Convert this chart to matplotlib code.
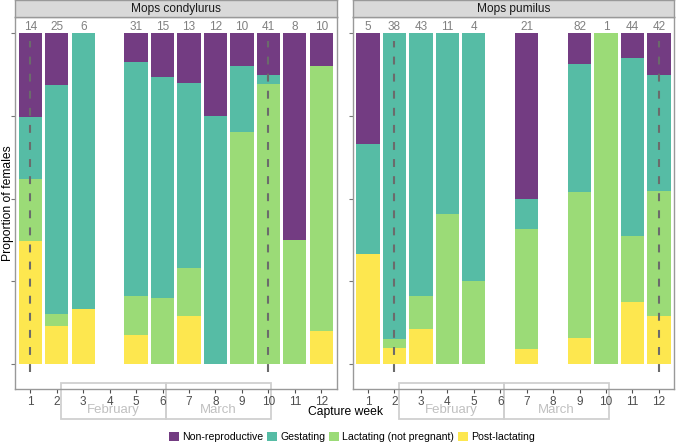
import numpy as np
import matplotlib
matplotlib.use('Agg')
import matplotlib.pyplot as plt
from matplotlib.patches import Rectangle, Patch

plt.rcParams['font.family'] = ['Liberation Sans', 'DejaVu Sans']

# proportions per capture week (weeks without captures are left out)
cond_weeks = [1, 2, 3, 5, 6, 7, 8, 9, 10, 11, 12]
cond_n = [14, 25, 6, 31, 15, 13, 12, 10, 41, 8, 10]
cond_nonrep = [0.252, 0.155, 0.0, 0.088, 0.133, 0.15, 0.25, 0.1, 0.127, 0.625, 0.1]
cond_gest = [0.188, 0.693, 0.833, 0.707, 0.667, 0.56, 0.75, 0.2, 0.027, 0.0, 0.0]
cond_lact = [0.187, 0.038, 0.0, 0.117, 0.2, 0.145, 0.0, 0.7, 0.846, 0.375, 0.8]
cond_post = [0.373, 0.114, 0.167, 0.088, 0.0, 0.145, 0.0, 0.0, 0.0, 0.0, 0.1]

pum_weeks = [1, 2, 3, 4, 5, 7, 9, 10, 11, 12]
pum_n = [5, 38, 43, 11, 4, 21, 82, 1, 44, 42]
pum_nonrep = [0.334, 0.0, 0.0, 0.0, 0.0, 0.5, 0.093, 0.0, 0.075, 0.126]
pum_gest = [0.333, 0.925, 0.795, 0.547, 0.75, 0.091, 0.386, 0.0, 0.537, 0.352]
pum_lact = [0.0, 0.025, 0.1, 0.453, 0.25, 0.362, 0.441, 1.0, 0.201, 0.376]
pum_post = [0.333, 0.05, 0.105, 0.0, 0.0, 0.047, 0.08, 0.0, 0.187, 0.146]

cond_dash = [1, 10]
pum_dash = [2, 12]

states = ['Non-reproductive', 'Gestating', 'Lactating (not pregnant)', 'Post-lactating']
cols = ['#733c82', '#56bca5', '#9bdb77', '#fde74f']

fig = plt.figure(figsize=(6.76, 4.47), dpi=100)

def panel(left, title, weeks, n, nonrep, gest, lact, post, dash):
    ax = fig.add_axes([left, 0.1298, 0.4757, 0.8322])
    weeks = np.array(weeks)
    bottom = np.zeros(len(weeks))
    for vals, c in zip([post, lact, gest, nonrep], cols[::-1]):
        ax.bar(weeks, vals, width=0.88, bottom=bottom, color=c, linewidth=0)
        bottom += np.array(vals)
    for w, k in zip(weeks, n):
        ax.text(w, 1.02, str(k), ha='center', va='center', fontsize=8.5, color='#808080')
    for d in dash:
        ax.plot([d, d], [-0.025, 0.975], color='#6b6b6b', lw=1.5,
                dashes=(3.8, 4.4), solid_capstyle='butt')
    ax.set_xlim(0.42, 12.58)
    ax.set_ylim(-0.075, 1.049)
    ax.set_xticks(range(1, 13))
    ax.set_yticks([0, 0.25, 0.5, 0.75, 1])
    ax.set_yticklabels([])
    ax.tick_params(colors='#4d4d4d', labelsize=8.5, length=3, width=0.8, pad=2)
    ax.tick_params(axis='y', colors='#777777')
    for s in ax.spines.values():
        s.set_color('#999999')
        s.set_linewidth(1.0)
    # month boxes below the axis
    for x0, x1, lab in [(2.16, 6.13, 'February'), (6.13, 10.1, 'March')]:
        ax.add_patch(Rectangle((x0, -0.165), x1 - x0, 0.109, fill=False,
                               edgecolor='#d0d0d0', lw=1.3, clip_on=False))
        ax.text((x0 + x1) / 2, -0.14, lab, ha='center', va='center',
                fontsize=9.5, color='#c0c0c0', clip_on=False)
    # strip
    st = fig.add_axes([left, 0.962, 0.4757, 0.038])
    st.set_facecolor('#d9d9d9')
    st.set_xticks([])
    st.set_yticks([])
    for s in st.spines.values():
        s.set_color('#999999')
        s.set_linewidth(1.0)
    st.text(0.5, 0.45, title, ha='center', va='center', fontsize=8.6, color='#1a1a1a',
            transform=st.transAxes)
    return ax

panel(15 / 676, 'Mops condylurus', cond_weeks, cond_n, cond_nonrep, cond_gest,
      cond_lact, cond_post, cond_dash)
panel(352.7 / 676, 'Mops pumilus', pum_weeks, pum_n, pum_nonrep, pum_gest,
      pum_lact, pum_post, pum_dash)

fig.text(346 / 676, 1 - 412 / 447, 'Capture week', ha='center', va='center', fontsize=8.7)
fig.text(8 / 676, 1 - 203 / 447, 'Proportion of females', ha='center', va='center',
         rotation=90, fontsize=8.7)

handles = [Patch(facecolor=c, edgecolor='none') for c in cols]
fig.legend(handles, states, loc='center', bbox_to_anchor=(352 / 676, 1 - 437 / 447),
           ncol=4, frameon=False, fontsize=7.6, handlelength=0.9, handleheight=0.9,
           handletextpad=0.3, columnspacing=0.4, borderpad=0)

fig.savefig('out.png', dpi=100)
